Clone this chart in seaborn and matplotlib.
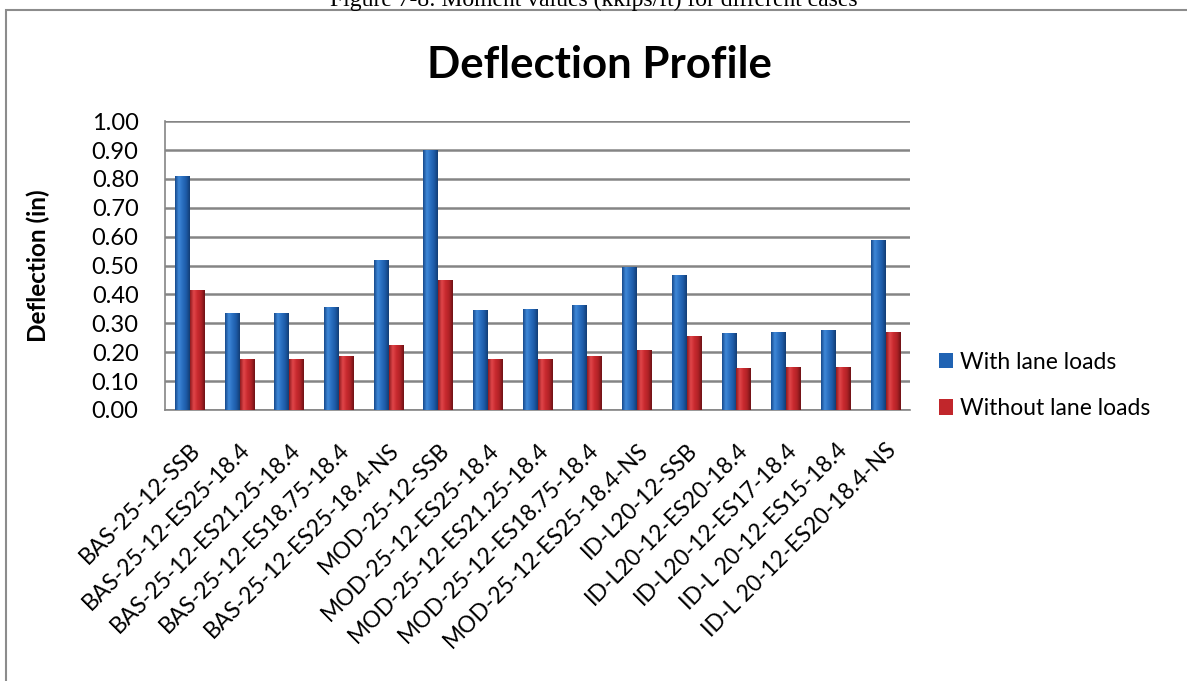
import matplotlib
matplotlib.use("Agg")
import matplotlib.pyplot as plt
import matplotlib.patches as mpatches
from matplotlib.colors import LinearSegmentedColormap, to_hex
import numpy as np
import pandas as pd
import seaborn as sns

# ── Data ──────────────────────────────────────────────────────────────────────
cases = [
    "BAS-25-12-SSB", "BAS-25-12-ES25-18.4", "BAS-25-12-ES21.25-18.4",
    "BAS-25-12-ES18.75-18.4", "BAS-25-12-ES25-18.4-NS", "MOD-25-12-SSB",
    "MOD-25-12-ES25-18.4", "MOD-25-12-ES21.25-18.4", "MOD-25-12-ES18.75-18.4",
    "MOD-25-12-ES25-18.4-NS", "ID-L20-12-SSB", "ID-L20-12-ES20-18.4",
    "ID-L20-12-ES17-18.4", "ID-L 20-12-ES15-18.4", "ID-L 20-12-ES20-18.4-NS",
]
with_lane = [0.81, 0.335, 0.335, 0.355, 0.52, 0.90, 0.345, 0.35, 0.365,
             0.495, 0.467, 0.266, 0.27, 0.277, 0.59]
without_lane = [0.415, 0.175, 0.175, 0.187, 0.225, 0.45, 0.175, 0.175, 0.187,
                0.207, 0.256, 0.145, 0.148, 0.150, 0.27]
series_names = ["With lane loads", "Without lane loads"]
colours = ["#2063b3", "#c1262b"]

df = pd.DataFrame({
    "case": cases * 2,
    "series": [series_names[0]] * len(cases) + [series_names[1]] * len(cases),
    "deflection": with_lane + without_lane,
})

# cylinder-ish shading across each bar
shades = {
    "#2063b3": LinearSegmentedColormap.from_list(
        "b", ["#174a8c", "#3f88d8", "#2a6fc0", "#1d5ba8", "#123d75"]),
    "#c1262b": LinearSegmentedColormap.from_list(
        "r", ["#8e1a1e", "#e0464a", "#c92a2f", "#b02226", "#6e1216"]),
}

# ── Plot ──────────────────────────────────────────────────────────────────────
sns.set_theme(style="white")
plt.rcParams["font.family"] = ["Lato", "DejaVu Sans"]
for key in ["text.color", "axes.labelcolor", "xtick.color", "ytick.color"]:
    plt.rcParams[key] = "black"

fig = plt.figure(figsize=(11.87, 6.81), dpi=100)
ax = fig.add_axes([0.139, 0.398, 0.628, 0.424])

sns.barplot(data=df, x="case", y="deflection", hue="series",
            palette=colours, saturation=1, width=0.6, ax=ax, legend=True,
            edgecolor="none", linewidth=0, zorder=3)

# paint a horizontal gradient inside every bar
grad = np.linspace(0, 1, 64).reshape(1, -1)
for bar in list(ax.patches):
    h = bar.get_height()
    if h <= 0:
        continue
    cmap = shades.get(to_hex(bar.get_facecolor()))
    if cmap is None:
        continue
    x0, w = bar.get_x(), bar.get_width()
    im = ax.imshow(grad, cmap=cmap, aspect="auto", extent=(x0, x0 + w, 0, h),
                   zorder=3.5, interpolation="bilinear")
    im.set_clip_path(bar)

ax.set_ylim(0, 1.0)
ax.set_xlim(-0.5, len(cases) - 0.5)
ax.set_yticks([i / 10 for i in range(11)])
ax.set_yticklabels([f"{i / 10:.2f}" for i in range(11)], fontsize=17)
ax.yaxis.grid(True, color="#858585", linewidth=1.8, zorder=0)
ax.set_axisbelow(True)
ax.tick_params(axis="y", length=0, pad=19)
ax.tick_params(axis="x", length=0, pad=21)
ax.set_xticks(range(len(cases)))
ax.set_xticklabels(cases, rotation=45, ha="right", rotation_mode="anchor", fontsize=16.5)
ax.set_xlabel("")
ax.set_ylabel("Deflection (in)", fontsize=17.5, fontweight="bold", labelpad=30)

for side in ["top", "right"]:
    ax.spines[side].set_visible(False)
for side in ["left", "bottom"]:
    ax.spines[side].set_color("#858585")
    ax.spines[side].set_linewidth(1.2)

ax.legend(loc="center left", bbox_to_anchor=(1.01, 0.085), frameon=False,
          fontsize=16.5, handlelength=0.65, handleheight=0.65,
          handletextpad=0.3, labelspacing=1.1)

fig.text(0.505, 0.905, "Deflection Profile", ha="center", va="center",
         fontsize=31.5, fontweight="bold")

# outer chart border and clipped caption from the page
fig.patches.append(mpatches.Rectangle((6 / 1187, -0.05), 1.1, 1 - 10 / 681 + 0.05,
                                      transform=fig.transFigure, fill=False,
                                      edgecolor="#8c8c8c", linewidth=1.5))
fig.text(0.5, 1 - 6 / 681, "Figure 7-8: Moment values (kkips/ft) for different cases",
         ha="center", va="baseline", fontsize=17, family="Liberation Serif")

fig.savefig("out.png", dpi=100)
plt.close(fig)
